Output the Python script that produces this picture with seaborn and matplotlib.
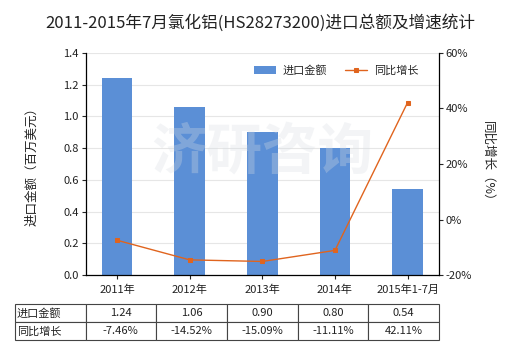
import matplotlib
matplotlib.use("Agg")
import matplotlib.pyplot as plt
import seaborn as sns
import pandas as pd

# 数据
periods = ["2011年", "2012年", "2013年", "2014年", "2015年1-7月"]
import_value = [1.24, 1.06, 0.90, 0.80, 0.54]
yoy_growth = [-7.46, -14.52, -15.09, -11.11, 42.11]
row_labels = ["进口金额", "同比增长"]

sns.set_theme(style="white")
plt.rcParams["font.family"] = ["Noto Sans CJK SC", "DejaVu Sans"]
plt.rcParams["axes.unicode_minus"] = False

bar_color = "#5b8fd6"
line_color = "#e0641e"
text_color = "#222222"

df = pd.DataFrame({"period": periods, "value": import_value, "growth": yoy_growth})

fig = plt.figure(figsize=(5.2, 3.5), dpi=100)
ax = fig.add_axes([0.165, 0.214, 0.679, 0.635])

sns.barplot(data=df, x="period", y="value", color=bar_color, width=0.42,
            saturation=1, ax=ax, label="进口金额", zorder=2, linewidth=0)
ax.set_ylim(0, 1.4)
ax.set_yticks([i * 0.2 for i in range(8)])
ax.set_yticklabels([f"{i * 0.2:.1f}" for i in range(8)], fontsize=8, color=text_color)
ax.set_xlabel("")
ax.set_ylabel("进口金额（百万美元）", fontsize=9, color=text_color, labelpad=18)
ax.tick_params(axis="x", labelsize=8, colors=text_color, length=3, width=0.8,
               direction="out", bottom=True, pad=4)
ax.tick_params(axis="y", length=3, width=0.8, direction="out", left=True, pad=2)
ax.grid(axis="y", color="#e6e6e6", linewidth=0.8, zorder=0)
ax.set_axisbelow(True)
for s in ["top", "right"]:
    ax.spines[s].set_visible(False)
for s in ["left", "bottom"]:
    ax.spines[s].set_color("#000000")
    ax.spines[s].set_linewidth(0.9)

# 水印
ax.text(0.5, 0.55, "济研咨询", transform=ax.transAxes, ha="center", va="center",
        fontsize=40, color="#d8dde3", alpha=0.3, fontweight="bold", zorder=3)

ax2 = ax.twinx()
sns.lineplot(data=df, x="period", y="growth", color=line_color, linewidth=1.0,
             marker="s", markersize=3.5, markeredgecolor=line_color, ax=ax2,
             label="同比增长", zorder=4, legend=False)
ax2.set_ylim(-20, 60)
ax2.set_yticks([-20, 0, 20, 40, 60])
ax2.set_yticklabels([f"{v}%" for v in [-20, 0, 20, 40, 60]], fontsize=8, color=text_color)
ax2.set_ylabel("同比增长（%）", fontsize=9, color=text_color, rotation=270, labelpad=16)
ax2.tick_params(axis="y", length=3, width=0.8, direction="out", right=True, pad=2)
for s in ["top", "left", "bottom"]:
    ax2.spines[s].set_visible(False)
ax2.spines["right"].set_color("#000000")
ax2.spines["right"].set_linewidth(0.9)
ax2.set_xlabel("")

# 图例
h1, l1 = ax.get_legend_handles_labels()
h2, l2 = ax2.get_legend_handles_labels()
leg = ax.legend(h1 + h2, l1 + l2, loc="upper right", bbox_to_anchor=(0.97, 0.99),
                ncol=2, frameon=False, fontsize=8, handlelength=2.0,
                columnspacing=1.6, handletextpad=0.6)

fig.suptitle("2011-2015年7月氯化铝(HS28273200)进口总额及增速统计",
             fontsize=12, color=text_color, y=0.96)

# 数据表
cell_text = [[row_labels[0]] + [f"{v:.2f}" for v in import_value],
             [row_labels[1]] + [f"{v:.2f}%" for v in yoy_growth]]
table = ax.table(cellText=cell_text, cellLoc="center",
                 bbox=[-0.201, -0.293, 1.201, 0.162])
table.auto_set_font_size(False)
for (r, c), cell in table.get_celld().items():
    cell.set_edgecolor("#444444")
    cell.set_linewidth(0.8)
    cell.get_text().set_fontsize(8)
    cell.get_text().set_color(text_color)
    if c == 0:
        cell.get_text().set_horizontalalignment("left")
        cell.PAD = 0.03

fig.savefig("out.png", dpi=100)
